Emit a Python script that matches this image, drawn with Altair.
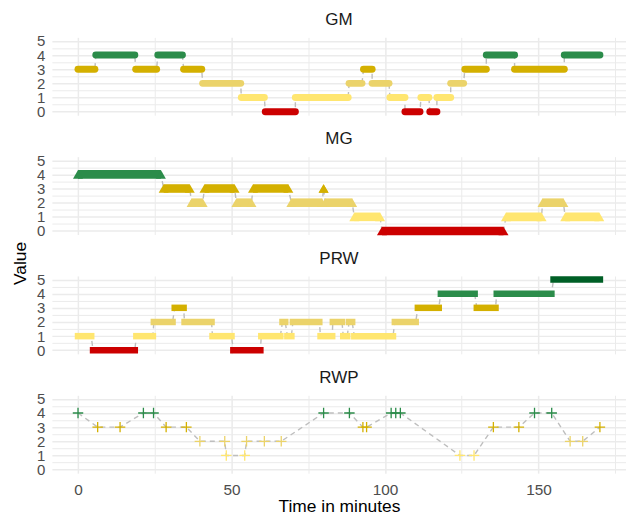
import altair as alt
import pandas as pd

FONT = "Liberation Sans"
LEVELS = [0, 1, 2, 3, 4, 5]
LEVEL_COLORS = ["#CC0000", "#FFE670", "#EBD36A", "#D4B000", "#2B8C4A", "#005F26"]

# GM: runs of constant value (start minute, end minute, value)
gm_start = [0, 5.8, 18.8, 26, 34.4, 40.6, 53.2, 61, 70.8, 88.3, 93, 95.8, 101.6, 106.5,
            111.7, 114.6, 116.9, 121.4, 126, 133, 142.2, 158.4]
gm_end = [5.5, 18.5, 25.6, 34, 40.3, 53, 60.7, 70.8, 88, 92.5, 95.8, 101.3, 106.5, 111.4,
          114.3, 116.9, 121.4, 125.6, 133, 142.2, 158.4, 170]
gm_value = [3, 4, 3, 4, 3, 2, 1, 0, 1, 2, 3, 2, 1, 0, 1, 0, 1, 2, 3, 4, 3, 4]

# MG
mg_start = [0, 27.9, 37, 41.2, 51.6, 57, 69.5, 80, 80.5, 90, 99, 139.4, 151.3, 158.7]
mg_end = [27, 36.4, 40.6, 51, 56.5, 68.5, 79.5, 80, 89.3, 98.4, 138.6, 151, 158.1, 169.8]
mg_value = [4, 3, 2, 3, 2, 3, 2, 3, 2, 1, 0, 1, 2, 1]

# PRW
prw_start = [0, 4.9, 19, 24.7, 31.5, 34.7, 43.8, 50.6, 59.7, 66.6, 68.2, 70, 79, 83, 86.4,
             88.3, 90, 103.2, 110.7, 118.2, 129.9, 136.4, 154.9]
prw_end = [4.3, 18.5, 24.4, 30.8, 34.4, 43.5, 50, 59.4, 65.9, 67.5, 69.5, 78.6, 82.8, 86,
           87.7, 89.3, 102.6, 110, 117.5, 129.2, 136, 154.2, 170]
prw_value = [1, 0, 1, 2, 3, 2, 1, 0, 1, 2, 1, 2, 1, 2, 1, 2, 1, 2, 3, 4, 3, 4, 5]

# RWP: individual observations
rwp_time = [0, 6.4, 13.7, 21.3, 24.6, 28.7, 35.3, 39.7, 47.8, 48.3, 54.3, 54.9, 60.7, 66.2,
            80, 88.4, 92.8, 94, 102, 103.5, 105, 124.4, 129, 135.3, 143.6, 148.7, 154.3,
            160.3, 164.4, 170]
rwp_value = [4, 3, 3, 4, 4, 3, 3, 2, 2, 1, 1, 2, 2, 2, 4, 4, 3, 3, 4, 4, 4, 1, 1, 3, 3, 4,
             4, 2, 2, 3]

X_TICKS = [0, 25, 50, 75, 100, 125, 150, 175]
Y_TICKS = [0, 0.5, 1, 1.5, 2, 2.5, 3, 3.5, 4, 4.5, 5]
X_DOMAIN = [-8.5, 178.5]
Y_DOMAIN = [-0.25, 5.25]
W, H = 575, 78
GRID = "#EBEBEB"
LINE_GREY = "#BEBEBE"


def xenc(field, bottom=False):
    axis = alt.Axis(values=X_TICKS,
                    labelExpr="datum.value % 50 === 0 ? format(datum.value, 'd') : ''",
                    ticks=False, domain=False, labels=bottom, labelOverlap=False,
                    gridColor=GRID,
                    gridWidth={"condition": {"test": "datum.value % 50 === 0", "value": 1.5},
                               "value": 1.0},
                    labelFontSize=15.4, labelColor="#4D4D4D", labelFont=FONT,
                    labelPadding=9,
                    titleFont=FONT, titleFontSize=17.4, titleFontWeight="normal",
                    titleColor="#000000", titlePadding=0)
    return alt.X(field, type="quantitative",
                 scale=alt.Scale(domain=X_DOMAIN, nice=False, zero=False),
                 axis=axis, title="Time in minutes" if bottom else None)


def yenc(field, with_title=False):
    kw = {}
    if with_title:
        kw = dict(titleX=-26, titleY=106.5, titleAngle=-90, titleAlign="center",
                  titleBaseline="alphabetic", titleFont=FONT, titleFontSize=17.4,
                  titleFontWeight="normal", titleColor="#000000")
    axis = alt.Axis(values=Y_TICKS,
                    labelExpr="datum.value % 1 === 0 ? format(datum.value, 'd') : ''",
                    ticks=False, domain=False, labelOverlap=False, labelBound=False,
                    gridColor=GRID,
                    gridWidth={"condition": {"test": "datum.value % 1 === 0", "value": 1.5},
                               "value": 1.0},
                    labelFontSize=15, labelColor="#4D4D4D", labelFont=FONT,
                    labelPadding=7, labelBaseline="middle", **kw)
    return alt.Y(field, type="quantitative",
                 scale=alt.Scale(domain=Y_DOMAIN, nice=False, zero=False),
                 axis=axis, title="Value" if with_title else None)


COLOR = alt.Color("value:O", scale=alt.Scale(domain=LEVELS, range=LEVEL_COLORS), legend=None)


def seg_frames(starts, ends, values):
    seg = pd.DataFrame({"start": starts, "end": ends, "value": values})
    rows = []
    for i, (s, e, v) in enumerate(zip(starts, ends, values)):
        rows.append({"t": s, "v": v, "o": 2 * i})
        rows.append({"t": e, "v": v, "o": 2 * i + 1})
    return seg, pd.DataFrame(rows)


def title(txt):
    return alt.TitleParams(txt, font=FONT, fontSize=17, fontWeight="normal",
                           color="#1A1A1A", anchor="middle", baseline="alphabetic",
                           offset=-8)


def line_layer(df, bottom=False, with_title=False):
    return alt.Chart(df).mark_line(color=LINE_GREY, strokeDash=[5, 4], strokeWidth=1.4).encode(
        x=xenc("t", bottom), y=yenc("v", with_title), order="o:Q")


# GM panel
gm_seg, gm_line = seg_frames(gm_start, gm_end, gm_value)
gm = alt.layer(
    line_layer(gm_line),
    alt.Chart(gm_seg).mark_rule(strokeWidth=7, strokeCap="round").encode(
        x=xenc("start"), x2="end:Q", y=yenc("value"), color=COLOR),
).properties(width=W, height=H, title=title("GM"))

# MG panel
mg_seg, mg_line = seg_frames(mg_start, mg_end, mg_value)
mg_ends = pd.concat([mg_seg[["start", "value"]].rename(columns={"start": "t"}),
                     mg_seg[["end", "value"]].rename(columns={"end": "t"})])
mg = alt.layer(
    line_layer(mg_line, with_title=True),
    alt.Chart(mg_seg).mark_rule(strokeWidth=8.6, strokeCap="butt").encode(
        x=xenc("start"), x2="end:Q", y=yenc("value", True), color=COLOR),
    alt.Chart(mg_ends).mark_point(shape="triangle-up", size=100, filled=True, opacity=1).encode(
        x=xenc("t"), y=yenc("value", True), color=COLOR),
).properties(width=W, height=H, title=title("MG"))

# PRW panel
prw_seg, prw_line = seg_frames(prw_start, prw_end, prw_value)
prw = alt.layer(
    line_layer(prw_line),
    alt.Chart(prw_seg).mark_rule(strokeWidth=6.5, strokeCap="square").encode(
        x=xenc("start"), x2="end:Q", y=yenc("value"), color=COLOR),
).properties(width=W, height=H, title=title("PRW"))

# RWP panel
rwp_df = pd.DataFrame({"t": rwp_time, "value": rwp_value, "o": list(range(len(rwp_time)))})
rwp = alt.layer(
    alt.Chart(rwp_df).mark_line(color=LINE_GREY, strokeDash=[5, 4], strokeWidth=1.4).encode(
        x=xenc("t", True), y=yenc("value"), order="o:Q"),
    alt.Chart(rwp_df).mark_point(shape="M-1,0L1,0M0,-1L0,1", size=110, filled=False,
                                 strokeWidth=1.3, opacity=1).encode(
        x=xenc("t", True), y=yenc("value"), color=COLOR),
).properties(width=W, height=H, title=title("RWP"))

chart = alt.vconcat(gm, mg, prw, rwp, spacing=41.5, bounds="flush").configure_view(
    stroke=None).properties(padding={"left": 12, "top": 10, "right": 0, "bottom": 0})

chart.save("out.html", embed_options={"renderer": "svg", "actions": False})
